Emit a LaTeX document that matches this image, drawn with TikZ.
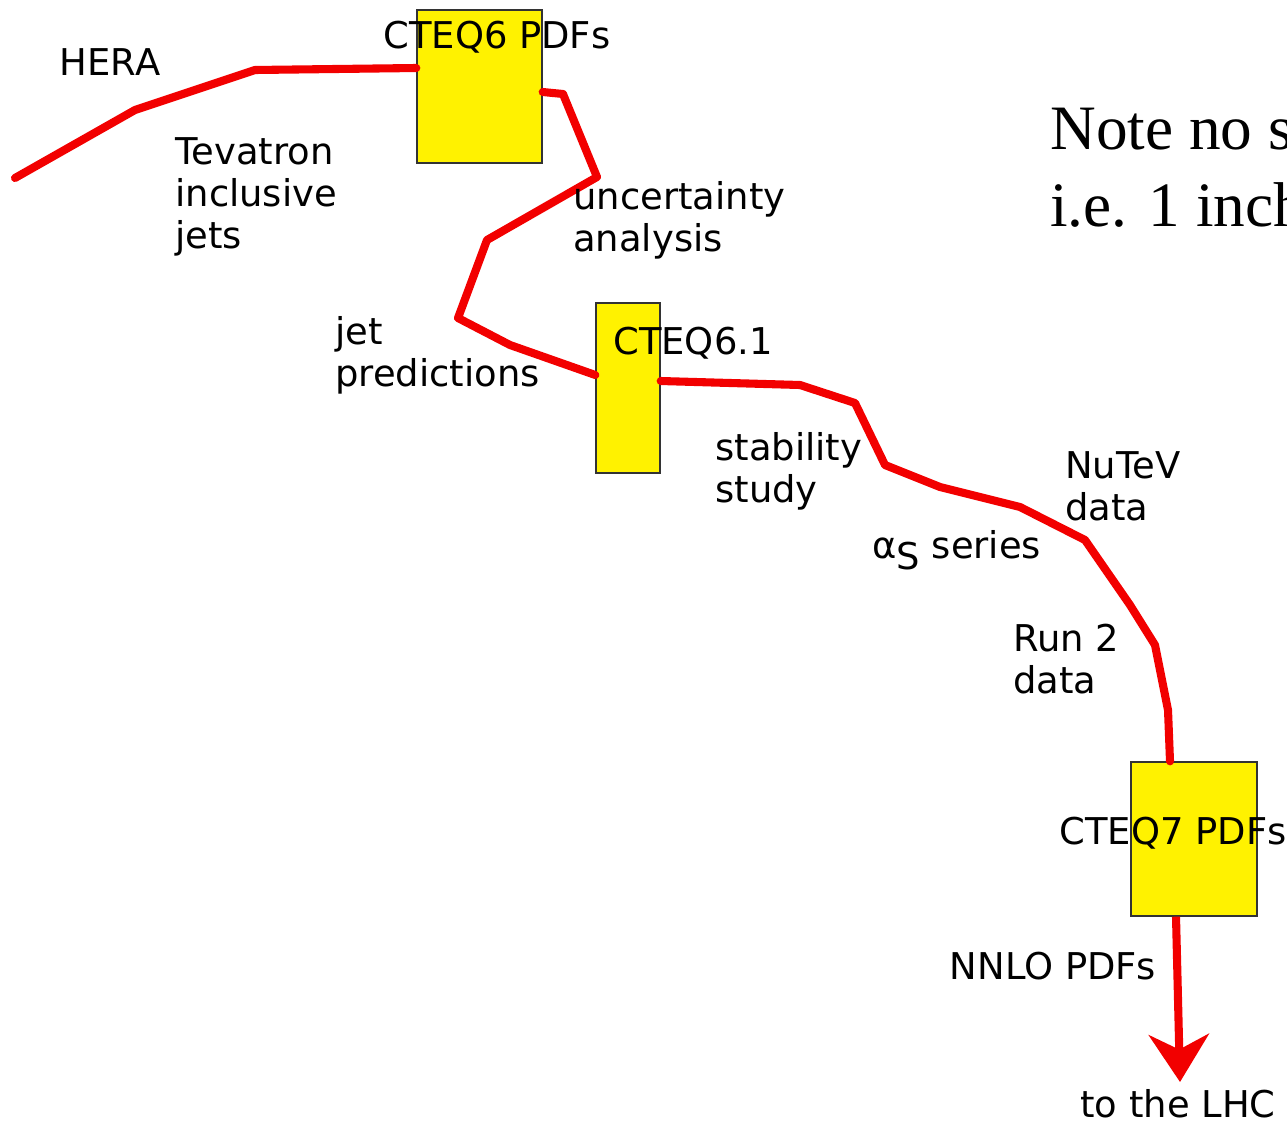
\documentclass[tikz,border=0pt]{standalone}
\usepackage{fontspec}
\setmainfont{DejaVu Sans}
\newfontfamily\notefont{Liberation Serif}
\usepackage{tikz}
\usetikzlibrary{arrows.meta, calc, positioning}
\tikzstyle{pdfset} = [rectangle, draw=black!80, fill=yellow, line width=0.8pt, inner sep=0pt]
\tikzstyle{lbl} = [anchor=west, align=left, inner sep=0pt, font=\fontsize{21}{24}\selectfont]
\tikzstyle{tag} = [inner sep=0pt, font=\fontsize{21}{24}\selectfont]
\tikzstyle{route} = [draw=red!95!black, line width=4.6pt, line join=round, line cap=round]
\tikzstyle{arrow} = [route, -{Stealth[length=0.95cm, width=1.2cm, inset=0.3cm]}, line cap=butt]

\begin{document}
\begin{tikzpicture}[x=0.02cm, y=-0.02cm]
		\useasboundingbox (0,0) rectangle (1287,1129);
		\clip (0,0) rectangle (1287,1129);
		% yellow boxes
		\node (CTEQsix) [pdfset, minimum width=2.5cm, minimum height=3.06cm] at (479.5,86.5) {};
		\node (CTEQsixone) [pdfset, minimum width=1.28cm, minimum height=3.4cm] at (628,388) {};
		\node (CTEQseven) [pdfset, minimum width=2.52cm, minimum height=3.08cm] at (1194,839) {};
		\coordinate (Start) at (15,178);
		\coordinate (LHC) at (1180,1082);
		% the road
		\draw [route] (Start) -- (135,110) -- (255,70) -- (CTEQsix.west |- 0,68);
		\draw [route] (CTEQsix.east |- 0,92) -- (563,94) -- (597,177) -- (487,240) -- (458,318) -- (510,345) -- (CTEQsixone.west |- 0,375);
		\draw [route] (CTEQsixone.east |- 0,381) -- (800,385) -- (855,403) -- (885,465) -- (940,487) -- (1020,507) -- (1085,540) -- (1130,605) -- (1155,645) -- (1168,710) -- (CTEQseven.north -| 1170,0);
		\draw [arrow] (CTEQseven.south -| 1176,0) -- (LHC);
		% labels
		\node (HERA) [tag] at (110,62) {HERA};
		\node (CTEQsixText) [tag] at (497,37) {CTEQ6 PDFs};
		\node (Tevatron) [lbl] at (175,197) {Tevatron\\inclusive\\jets};
		\node (Uncertainty) [lbl] at (573,220) {uncertainty\\analysis};
		\node (JetPred) [lbl] at (335,355) {jet\\predictions};
		\node (CTEQsixoneText) [lbl] at (613,343) {CTEQ6.1};
		\node (Stability) [lbl] at (715,471) {stability\\study};
		\node (NuTeV) [lbl] at (1065,486) {NuTeV\\data};
		\node (AlphaS) [lbl] at (872,550) {α\raisebox{-6pt}{S} series};
		\node (RunTwo) [lbl] at (1013,659) {Run 2\\data};
		\node (CTEQsevenText) [tag] at (1173,833) {CTEQ7 PDFs};
		\node (NNLO) [tag] at (1053,966) {NNLO PDFs};
		\node (LHCText) [tag] at (1178,1104) {to the LHC};
		\node (Note) [anchor=west, align=left, inner sep=0pt, font=\notefont\fontsize{36}{44}\selectfont] at (1050,168) {Note no s\\i.e. 1 inch};
\end{tikzpicture}
\end{document}
